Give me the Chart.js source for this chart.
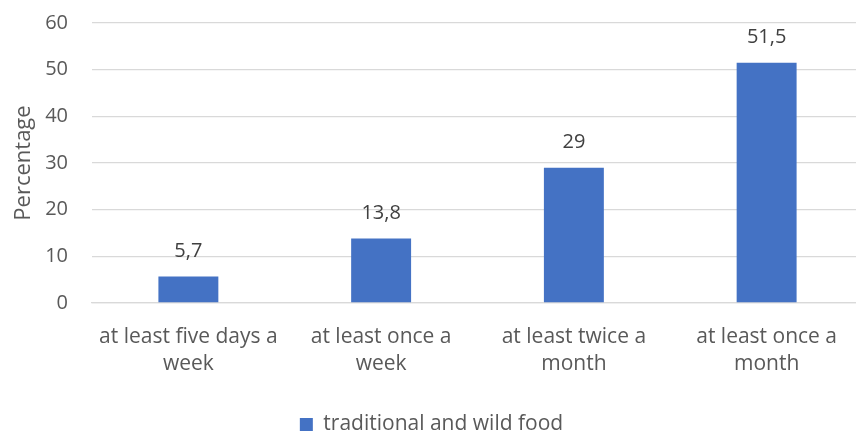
<!DOCTYPE html>
<html>
<head>
<meta charset="utf-8">
<script src="https://cdn.jsdelivr.net/npm/chart.js@4.4.0/dist/chart.umd.min.js"></script>
<style>
    html, body { margin: 0; padding: 0; background: #fff; overflow: hidden; }
    #wrap { width: 864px; height: 431px; }
</style>
</head>
<body>
<div id="wrap"><canvas id="foodChart"></canvas></div>
<script>
const categories = [
    ["at least five days a", "week"],
    ["at least once a", "week"],
    ["at least twice a", "month"],
    ["at least once a", "month"]
];
const seriesName = "traditional and wild food";
const values = [5.7, 13.8, 29, 51.5];
const yTicks = [0, 10, 20, 30, 40, 50, 60];

const textColor = "#595959";
const barColor = "#4472C4";
const fontFamily = "'Open Sans'";

// Value labels above each bar, with decimal comma
const valueLabels = {
    id: "valueLabels",
    afterDatasetsDraw(chart) {
        const ctx = chart.ctx;
        const meta = chart.getDatasetMeta(0);
        ctx.save();
        ctx.font = "20px " + fontFamily;
        ctx.fillStyle = "#404040";
        ctx.textAlign = "center";
        ctx.textBaseline = "middle";
        meta.data.forEach((bar, i) => {
            const txt = String(values[i]).replace(".", ",");
            ctx.fillText(txt, bar.x, bar.y - 25);
        });
        ctx.restore();
    }
};

const ctx = document.getElementById("foodChart").getContext("2d");
new Chart(ctx, {
    type: "bar",
    data: {
        labels: categories,
        datasets: [{
            label: seriesName,
            data: values,
            backgroundColor: barColor,
            borderWidth: 0,
            categoryPercentage: 1,
            barPercentage: 0.311
        }]
    },
    options: {
        responsive: true,
        maintainAspectRatio: false,
        animation: false,
        layout: {
            padding: { left: 0, right: 1, top: 23, bottom: -14 }
        },
        plugins: {
            legend: {
                display: true,
                position: "bottom",
                labels: {
                    font: { family: fontFamily, size: 21 },
                    color: textColor,
                    boxWidth: 13,
                    boxHeight: 13,
                    padding: 10
                }
            },
            tooltip: { enabled: false }
        },
        scales: {
            x: {
                grid: { display: false },
                border: { color: "#d9d9d9", width: 1.3 },
                ticks: {
                    font: { family: fontFamily, size: 21, lineHeight: 1.3 },
                    color: textColor,
                    maxRotation: 0,
                    padding: 12
                },
                afterFit(scale) { scale.height = 101; }
            },
            y: {
                min: 0,
                max: 60,
                afterBuildTicks(scale) {
                    scale.ticks = yTicks.map(v => ({ value: v }));
                },
                grid: { color: "#d9d9d9", lineWidth: 1.3, drawTicks: false },
                border: { display: false },
                ticks: {
                    font: { family: fontFamily, size: 20 },
                    color: textColor,
                    padding: 24
                },
                title: {
                    display: true,
                    text: "Percentage",
                    font: { family: fontFamily, size: 22 },
                    color: textColor,
                    padding: { top: 11, bottom: 0 }
                },
                afterFit(scale) {
                    scale.width = 92;
                    scale.paddingTop = 0;
                    scale.paddingBottom = 0;
                }
            }
        }
    },
    plugins: [valueLabels]
});
</script>
</body>
</html>
